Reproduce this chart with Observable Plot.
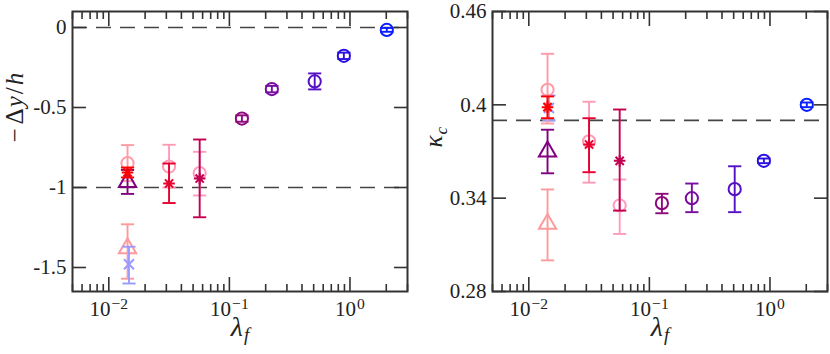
<!DOCTYPE html>
<html><head><meta charset="utf-8">
<script src="https://cdn.jsdelivr.net/npm/d3@7"></script>
<script src="https://cdn.jsdelivr.net/npm/@observablehq/plot@0.6"></script>
<style>
body{margin:0;background:#fff;}
#wrap{display:flex;width:830px;height:354px;overflow:hidden;}
#wrap svg, #wrap svg text{font-family:'Liberation Serif','DejaVu Serif',serif !important;}
</style></head><body><div id="wrap"></div>
<script>
// ---- data ----
const seriesIds = ["pinkTri","blueX","pinkCirc1","pinkCirc2","pinkCirc3","purpleTri","crimsonStar","darkStar","redStar","circ1","circ2","circ3","circ4","circ5"];
const lambdaF   = [0.0143, 0.0147, 0.0143, 0.0316, 0.0567, 0.0143, 0.0316, 0.0567, 0.0143, 0.127, 0.225, 0.51, 0.89, 2.02];
const symbols   = ["triangle","times","circle","circle","circle","triangle","star","star","star","circle","circle","circle","circle","circle"];
const colors    = ["#ff9a9a","#9a9aff","#ff9aa8","#ff9ab4","#ff9ac0","#800080","#e8002e","#c2004f","#ff0000","#8c0a7c","#780ca0","#5410c4","#2a10e0","#0a1eff"];
// left panel: -Δy/h
const dyMean = [-1.38, -1.48, -0.848, -0.869, -0.910, -0.965, -0.975, -0.944, -0.906, -0.569, -0.385, -0.337, -0.177, -0.015];
const dyLow  = [-1.57, -1.60, -0.960, -1.000, -1.050, -1.040, -1.097, -1.186, -0.937, -0.589, -0.405, -0.387, -0.197, -0.027];
const dyHigh = [-1.23, -1.37, -0.735, -0.733, -0.777, -0.890, -0.850, -0.700, -0.875, -0.549, -0.365, -0.287, -0.157, -0.003];
// right panel: κ_c
const kMean  = [0.3235, 0.398, 0.4097, 0.3766, 0.3353, 0.370, 0.3745, 0.364, 0.3985, 0.3368, 0.340, 0.3458, 0.364, 0.400];
const kLow   = [0.300, 0.390, 0.388, 0.350, 0.317, 0.356, 0.3567, 0.332, 0.3914, 0.3303, 0.331, 0.331, 0.3625, 0.3985];
const kHigh  = [0.3456, 0.406, 0.4328, 0.402, 0.352, 0.384, 0.3914, 0.397, 0.4054, 0.3428, 0.3494, 0.3605, 0.3655, 0.4015];
const dashedLeft = [0, -1];
const dashedRight = [0.39];
const xDomain = [0.005, 3];
const xMajorTicks = [0.01, 0.1, 1];
const yTicksLeft = [0, -0.5, -1, -1.5];
const yTicksRight = [0.28, 0.34, 0.4, 0.46];

// ---- helpers ----
const asterisk8 = {draw(ctx, size){const r=Math.sqrt(size/Math.PI), d=r*Math.SQRT1_2;
  ctx.moveTo(-r,0);ctx.lineTo(r,0);ctx.moveTo(0,-r);ctx.lineTo(0,r);
  ctx.moveTo(-d,-d);ctx.lineTo(d,d);ctx.moveTo(-d,d);ctx.lineTo(d,-d);}};
const capSym = {draw(ctx, size){const r=Math.sqrt(size/Math.PI); ctx.moveTo(-r,0); ctx.lineTo(r,0);}};
const symMap = {triangle:"triangle", times:"times", circle:"circle", star: asterisk8};
const symR = {triangle:6.4, times:4.6, circle:6.1, star:5.8};
const xMinorTicks = d3.scaleLog().domain(xDomain).ticks().filter(t => !xMajorTicks.some(m => Math.abs(m - t) < 1e-12));
const FONT = "'Liberation Serif', 'DejaVu Serif', serif";

function pointMarks(mean, low, high) {
  const marks = [];
  seriesIds.forEach((id, i) => {
    const row = [{x: lambdaF[i], m: mean[i], lo: low[i], hi: high[i]}];
    const c = colors[i];
    marks.push(Plot.ruleX(row, {x:"x", y1:"lo", y2:"hi", stroke:c, strokeWidth:1.9}));
    marks.push(Plot.dot(row, {x:"x", y:"lo", symbol:capSym, r:6.6, stroke:c, fill:"none", strokeWidth:1.9}));
    marks.push(Plot.dot(row, {x:"x", y:"hi", symbol:capSym, r:6.6, stroke:c, fill:"none", strokeWidth:1.9}));
    marks.push(Plot.dot(row, {x:"x", y:"m", symbol:symMap[symbols[i]], r:symR[symbols[i]], stroke:c, fill:"none", strokeWidth:2}));
  });
  return marks;
}

function tickMarks(yTicks) {
  const s = {stroke:"#333", strokeWidth:1.6, fill:"none", label:null};
  return [
    Plot.axisX({...s, anchor:"bottom", ticks:xMajorTicks, tickSize:-14}),
    Plot.axisX({...s, anchor:"top", ticks:xMajorTicks, tickSize:-14}),
    Plot.axisX({...s, anchor:"bottom", ticks:xMinorTicks, tickSize:-7}),
    Plot.axisX({...s, anchor:"top", ticks:xMinorTicks, tickSize:-7}),
    Plot.axisY({...s, anchor:"left", ticks:yTicks, tickSize:-14}),
    Plot.axisY({...s, anchor:"right", ticks:yTicks, tickSize:-14}),
    Plot.axisX({anchor:"bottom", ticks:xMajorTicks, tickSize:0, tickPadding:10, label:null,
      tickFormat: d => "10^" + Math.round(Math.log10(d)), fontSize:21, fill:"#222"}),
    Plot.axisY({anchor:"left", ticks:yTicks, tickSize:0, tickPadding:6, label:null,
      tickFormat: d => String(d), fontSize:21, fill:"#222"})
  ];
}

function makePanel(opts) {
  const {yDomain, mean, low, high, dashed, yTicks, marginLeft, marginRight, ylab, ylabDx, ylabDy} = opts;
  return Plot.plot({
    width: 415, height: 354,
    marginLeft, marginRight, marginTop: 11, marginBottom: 63,
    style: {fontFamily: FONT, fontSize: "21px", color: "#222", background: "#fff", overflow: "visible"},
    x: {type: "log", domain: xDomain},
    y: {domain: yDomain},
    marks: [
      Plot.ruleY(dashed, {stroke:"#444", strokeWidth:1.7, strokeDasharray:"15,9"}),
      ...pointMarks(mean, low, high),
      ...tickMarks(yTicks),
      Plot.text([ylab], {frameAnchor:"left", dx: ylabDx, dy: ylabDy, rotate:-90, fontSize:25, fill:"#222"}),
      Plot.text(["λ_f"], {frameAnchor:"bottom", dy: 44, fontSize:28, fill:"#222"}),
      Plot.frame({stroke:"#333", strokeWidth:2})
    ]
  });
}

function rich(el, parts) {
  const s = d3.select(el);
  s.text("");
  parts.forEach(p => {
    const t = s.append("tspan").text(p.t);
    if (p.it) t.attr("font-style", "italic");
    if (p.dx) t.attr("dx", p.dx);
    if (p.sub) t.attr("dy", "0.3em").attr("font-size", "0.68em");
    if (p.sup) t.attr("dy", "-0.5em").attr("font-size", "0.74em");
  });
}

function finish(chart) {
  d3.select(chart).selectAll("text").each(function(){
    const t = this.textContent;
    const m = t.match(/^10\^(.+)$/);
    if (m) rich(this, [{t:"10"}, {t: m[1].replace("-", "\u2212"), sup:true, dx:1}]);
    else if (t === "λ_f") rich(this, [{t:"λ", it:true}, {t:"f", it:true, sub:true, dx:1}]);
    else if (t === "k_c") rich(this, [{t:"κ", it:true}, {t:"c", it:true, sub:true, dx:1}]);
    else if (t === "-dy/h") rich(this, [{t:"\u2212"}, {t:"Δ", dx:4}, {t:"y", it:true, dx:1}, {t:"/", dx:2}, {t:"h", it:true, dx:2}]);
  });
}

const left = makePanel({yDomain:[-1.65, 0.1], mean:dyMean, low:dyLow, high:dyHigh, dashed:dashedLeft,
  yTicks:yTicksLeft, marginLeft:72, marginRight:8, ylab:"-dy/h", ylabDx:-58, ylabDy:-9});
const right = makePanel({yDomain:[0.28, 0.46], mean:kMean, low:kLow, high:kHigh, dashed:dashedRight,
  yTicks:yTicksRight, marginLeft:77, marginRight:3, ylab:"k_c", ylabDx:-59, ylabDy:-4});
const wrap = document.getElementById("wrap");
wrap.appendChild(left); wrap.appendChild(right);
finish(left); finish(right);
</script></body></html>
